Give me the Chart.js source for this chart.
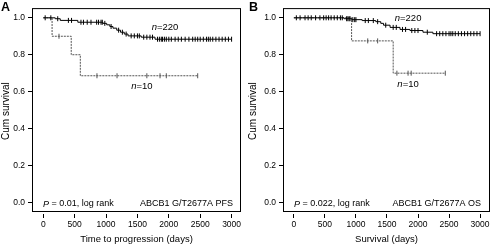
<!DOCTYPE html>
<html>
<head>
<meta charset="utf-8">
<script src="https://cdn.jsdelivr.net/npm/chart.js@4"></script>
<style>
  body { margin: 0; background: #fff; }
  #wrap { position: relative; width: 495px; height: 245px; }
  canvas { position: absolute; top: 0; }
</style>
</head>
<body>
<div id="wrap">
  <canvas id="chartA" width="247" height="245" style="left:0"></canvas>
  <canvas id="chartB" width="248" height="245" style="left:247px"></canvas>
</div>
<script>
// tick labels
const xTicks = [0, 500, 1000, 1500, 2000, 2500, 3000];
const yTicks = [0, 0.2, 0.4, 0.6, 0.8, 1.0];

// Panel A - PFS: events as [time, survival], censor times
const pfsWildEvents = [[190, 0.995], [270, 0.986], [550, 0.976], [950, 0.970], [1010, 0.962], [1060, 0.953],
  [1110, 0.944], [1170, 0.933], [1230, 0.922], [1290, 0.912], [1350, 0.902], [1560, 0.895], [1780, 0.884]];
const pfsWildCensor = [30, 120, 230, 400, 450, 600, 640, 700, 760, 850, 880, 920, 940, 980, 1080, 1200,
  1260, 1320, 1400, 1450, 1500, 1530, 1600, 1650, 1700, 1740, 1820, 1850, 1880, 1900, 1930, 1960, 2000,
  2040, 2100, 2150, 2200, 2260, 2320, 2380, 2420, 2460, 2500, 2550, 2600, 2630, 2660, 2700, 2750, 2800,
  2850, 2900, 2950, 3000];
const pfsVarEvents = [[140, 0.9], [445, 0.8], [590, 0.686]];
const pfsVarCensor = [250, 855, 1175, 1650, 1860, 1960, 2460];

// Panel B - OS
const osWildEvents = [[810, 0.995], [930, 0.99], [1100, 0.985], [1320, 0.979], [1400, 0.97], [1445, 0.96],
  [1550, 0.948], [1710, 0.937], [1870, 0.931], [2080, 0.922], [2240, 0.914]];
const osWildCensor = [40, 100, 180, 230, 280, 350, 420, 480, 520, 560, 600, 650, 700, 750, 780, 850, 870,
  890, 905, 950, 980, 1000, 1150, 1200, 1280, 1350, 1480, 1600, 1650, 1750, 1800, 1900, 1950, 2000, 2150,
  2300, 2350, 2400, 2450, 2500, 2530, 2560, 2600, 2650, 2700, 2750, 2800, 2850, 2900, 2950, 3000];
const osVarEvents = [[930, 0.875], [1600, 0.7]];
const osVarCensor = [1190, 1350, 1660, 1840, 1890, 2440];

const FONT = "'Liberation Sans', Arial, sans-serif";

function levelAt(events, t) {
  let s = 1;
  events.forEach(e => { if (e[0] <= t) s = e[1]; });
  return s;
}

function stepPoints(events, censor) {
  const pts = [{ x: 0, y: 1 }];
  events.forEach(e => pts.push({ x: e[0], y: e[1] }));
  const end = Math.max(...censor);
  pts.push({ x: end, y: levelAt(events, end) });
  return pts;
}

function censorPoints(events, censor) {
  return censor.map(t => ({ x: t, y: levelAt(events, t) }));
}

const boxPlugin = {
  id: 'box',
  afterDraw(chart) {
    const a = chart.chartArea;
    const ctx = chart.ctx;
    ctx.save();
    ctx.strokeStyle = '#000';
    ctx.lineWidth = 1;
    ctx.strokeRect(a.left + 0.5, a.top + 0.5, a.right - a.left - 1, a.bottom - a.top - 3);
    const o = chart.options.plugins.box;
    const xs = chart.scales.x, ys = chart.scales.y;
    ctx.fillStyle = '#000';
    ctx.textBaseline = 'middle';
    // n labels
    o.labels.forEach(l => {
      const px = xs.getPixelForValue(l.x), py = ys.getPixelForValue(l.y);
      ctx.font = 'italic 9.5px ' + FONT;
      const w1 = ctx.measureText('n').width;
      ctx.font = '9.5px ' + FONT;
      const w2 = ctx.measureText(l.text).width;
      let sx = px - (w1 + w2) / 2;
      ctx.textAlign = 'left';
      ctx.font = 'italic 9.5px ' + FONT;
      ctx.fillText('n', sx, py);
      ctx.font = '9.5px ' + FONT;
      ctx.fillText(l.text, sx + w1, py);
    });
    // p value and title inside the box
    const by = a.bottom - 10;
    ctx.textAlign = 'left';
    ctx.font = 'italic 9px ' + FONT;
    ctx.fillText('P', a.left + 11, by);
    const pw = ctx.measureText('P').width;
    ctx.font = '9px ' + FONT;
    ctx.fillText(o.pText, a.left + 11 + pw, by);
    ctx.textAlign = 'right';
    ctx.fillText(o.title, a.right - o.titleRight, by);
    ctx.restore();
  }
};

function makeChart(id, cfg) {
  return new Chart(document.getElementById(id), {
    type: 'line',
    data: {
      datasets: [
        { data: stepPoints(cfg.varEvents, cfg.varCensor), stepped: true, borderColor: '#555',
          borderWidth: 1, borderDash: [2, 1], pointRadius: 0, order: 2 },
        { data: censorPoints(cfg.varEvents, cfg.varCensor), showLine: false, pointStyle: 'line',
          rotation: 90, pointRadius: 2.5, borderColor: '#555', borderWidth: 1, order: 2 },
        { data: stepPoints(cfg.wildEvents, cfg.wildCensor), stepped: true, borderColor: '#000',
          borderWidth: 1, pointRadius: 0, order: 1 },
        { data: censorPoints(cfg.wildEvents, cfg.wildCensor), showLine: false, pointStyle: 'line',
          rotation: 90, pointRadius: 2.5, borderColor: '#000', borderWidth: 1, order: 1 }
      ]
    },
    options: {
      responsive: false,
      animation: false,
      layout: { padding: { left: 0, right: cfg.padRight, top: 2, bottom: 0 } },
      plugins: {
        legend: { display: false },
        tooltip: { enabled: false },
        box: { labels: cfg.labels, pText: cfg.pText, title: cfg.title, titleRight: cfg.titleRight }
      },
      scales: {
        x: {
          type: 'linear', min: cfg.xMin, max: cfg.xMax,
          afterBuildTicks: s => { s.ticks = xTicks.map(v => ({ value: v })); },
          afterFit: s => { s.height = 31; },
          border: { display: false },
          grid: { drawOnChartArea: false, drawTicks: true, tickLength: 4, color: '#000', lineWidth: 1 },
          ticks: { color: '#000', font: { family: FONT, size: 8.5 }, padding: 2, maxRotation: 0,
            callback: v => String(v) },
          title: { display: true, text: cfg.xTitle, color: '#000', font: { family: FONT, size: 9.5 },
            padding: { top: 0, bottom: 0 } }
        },
        y: {
          type: 'linear', min: -0.063, max: 1.0526,
          afterBuildTicks: s => { s.ticks = yTicks.map(v => ({ value: v })); },
          afterFit: s => { s.width = cfg.yWidth; },
          border: { display: false },
          grid: { drawOnChartArea: false, drawTicks: true, tickLength: 4, color: '#000', lineWidth: 1 },
          ticks: { color: '#000', font: { family: FONT, size: 8.5 }, padding: 3,
            callback: v => v.toFixed(1) },
          title: { display: true, text: 'Cum survival', color: '#000', font: { family: FONT, size: 10 },
            padding: { top: 0, bottom: 0 } }
        }
      }
    },
    plugins: [boxPlugin, {
      id: 'panelLetter',
      afterDraw(chart) {
        const ctx = chart.ctx;
        ctx.save();
        ctx.font = 'bold 12.5px ' + FONT;
        ctx.fillStyle = '#000';
        ctx.textBaseline = 'top';
        ctx.fillText(cfg.letter, cfg.letterX, 1);
        ctx.restore();
      }
    }]
  });
}

makeChart('chartA', {
  letter: 'A', letterX: 1, xMin: -180, xMax: 3150, yWidth: 32, padRight: 6,
  wildEvents: pfsWildEvents, wildCensor: pfsWildCensor, varEvents: pfsVarEvents, varCensor: pfsVarCensor,
  xTitle: 'Time to progression (days)', pText: ' = 0.01, log rank', title: 'ABCB1 G/T2677A PFS', titleRight: 8,
  labels: [{ x: 1940, y: 0.947, text: '=220' }, { x: 1570, y: 0.626, text: '=10' }]
});

makeChart('chartB', {
  letter: 'B', letterX: 2, xMin: -175, xMax: 3160, yWidth: 36, padRight: 2,
  wildEvents: osWildEvents, wildCensor: osWildCensor, varEvents: osVarEvents, varCensor: osVarCensor,
  xTitle: 'Survival (days)', pText: ' = 0.022, log rank', title: 'ABCB1 G/T2677A OS', titleRight: 9,
  labels: [{ x: 1840, y: 0.995, text: '=220' }, { x: 1840, y: 0.642, text: '=10' }]
});
</script>
</body>
</html>
